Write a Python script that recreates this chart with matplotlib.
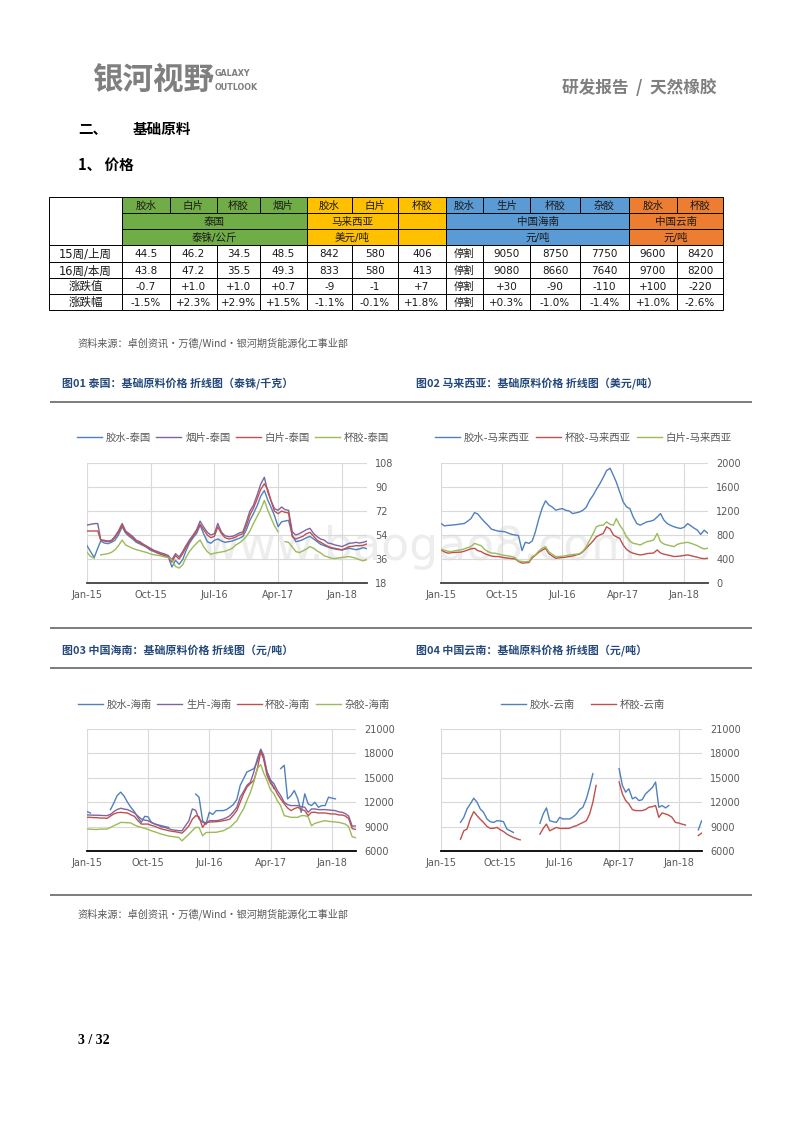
import numpy as np
import matplotlib
matplotlib.use('Agg')
import matplotlib.pyplot as plt
import matplotlib.dates as mdates
from matplotlib.patches import Rectangle
import datetime as dt

nan = np.nan
CJK = ['Noto Sans CJK SC', 'DejaVu Sans']
LAT = ['DejaVu Sans', 'Noto Sans CJK SC']
plt.rcParams['font.family'] = LAT

# ---------------- table data ----------------
tbl_items = ['胶水', '白片', '杯胶', '烟片', '胶水', '白片', '杯胶',
             '胶水', '生片', '杯胶', '杂胶', '胶水', '杯胶']
tbl_groups = [(0, 4, '泰国', '泰铢/公斤', '#70AD47'),
              (4, 6, '马来西亚', '美元/吨', '#FFC000'),
              (6, 7, '', '', '#FFC000'),
              (7, 11, '中国海南', '元/吨', '#5B9BD5'),
              (11, 13, '中国云南', '元/吨', '#ED7D31')]
row_labels = ['15周/上周', '16周/本周', '涨跌值', '涨跌幅']
wk15 = ['44.5', '46.2', '34.5', '48.5', '842', '580', '406', '停割', '9050', '8750', '7750', '9600', '8420']
wk16 = ['43.8', '47.2', '35.5', '49.3', '833', '580', '413', '停割', '9080', '8660', '7640', '9700', '8200']
chg = ['-0.7', '+1.0', '+1.0', '+0.7', '-9', '-1', '+7', '停割', '+30', '-90', '-110', '+100', '-220']
chg_pct = ['-1.5%', '+2.3%', '+2.9%', '+1.5%', '-1.1%', '-0.1%', '+1.8%', '停割', '+0.3%', '-1.0%', '-1.4%', '+1.0%', '-2.6%']

# ---------------- series data (half-monthly, Jan 2015 - Apr 2018) ----------------
dates = []
for yy in (2015, 2016, 2017, 2018):
    for mm in range(1, 13):
        for dd in (1, 16):
            dates.append(dt.date(yy, mm, dd))
dates = dates[:80]

thai_latex = [46, 41.6, 37.1, 44, 49.5, 48, 47.5, 48.5, 50, 54,
              60.2, 55.5, 53, 51, 48.5, 47.3, 46, 44.5, 42.5, 41.6,
              40.5, 39.5, 38.5, 37.5, 30, 35, 32, 35.5, 42, 47.8,
              52, 55.2, 61.4, 55, 49, 47.8, 50, 51, 49.5, 48.5,
              49, 49.5, 50.5, 51.5, 53, 58, 65, 70, 76, 83,
              87.4, 80, 75, 68.8, 60.2, 63.9, 64.5, 65, 54, 49,
              49.5, 50.5, 52, 53, 51, 49, 47, 46, 45, 44,
              43.5, 43, 42.8, 43.5, 44, 43.5, 43, 43.5, 44.5, 43.8]
thai_rss = [61.4, 62, 62.5, 62.6, 50.5, 50, 49.5, 50, 53, 57,
            62.6, 57, 55, 53, 50, 49, 47, 45.5, 44, 42.5,
            41.5, 40.5, 39.8, 38.6, 35.4, 40, 37.5, 41.6, 46, 50.2,
            54, 58, 64.4, 60, 56, 54, 55, 62.6, 56, 53.5,
            52.7, 53, 54, 55.5, 56.4, 64, 72, 76.3, 84, 92,
            97.3, 86, 80, 73.8, 72.5, 75, 73, 72.5, 56.4, 54,
            55, 56.4, 58, 59, 55, 52.7, 51, 50.2, 48, 47.5,
            46.5, 46, 45.3, 46.5, 47.8, 48, 48.5, 48, 48.5, 49.3]
thai_white = [57, 57, 57, 57, 50.2, 49.5, 49, 49.5, 52, 56,
              61.4, 56, 54, 52, 49.5, 48, 46.5, 45, 43.5, 42,
              40.5, 39.5, 38.8, 37.5, 33.6, 38.5, 36, 40, 44.5, 49,
              53, 57, 62, 58, 54, 52, 53, 60, 55, 52,
              51, 51.5, 52.5, 54, 55, 61, 69, 74, 81, 88,
              92.4, 88, 80, 72, 70, 72, 71, 70.5, 52.7, 51,
              52, 53, 55, 56, 53, 50, 48.5, 47, 45.5, 44.5,
              44, 43.5, 42.8, 44, 45.3, 45.5, 46, 46, 46.2, 47.2]
thai_cup = [41.1, 37.9, 36.6, nan, 39.1, 39.5, 40, 41, 42.8, 46,
            50.2, 46.5, 45.3, 44, 43, 42.3, 41.5, 40.8, 39.8, 39.1,
            38.8, 38.3, 37.5, 37.1, 35.4, 30.4, 29.2, 31.6, 37, 41.6,
            45, 47.8, 50.2, 45.3, 41.5, 39.5, 40.3, 40.8, 41.3, 41.8,
            42.8, 44, 46.5, 48, 50.2, 53, 57, 62.6, 68, 73,
            80, 72.5, 67, 61, 56.4, nan, 49, 48.5, 45, 41.6,
            40.8, 42, 43.5, 45.3, 44, 42, 40.5, 38.5, 37.5, 36.6,
            36.3, 36.8, 37.1, 37.5, 37.8, 37.2, 36.6, 35.5, 34.6, 35.5]

my_latex = [992, 953, 960, 964, 970, 975, 985, 992, 1030, 1074,
            1173, 1150, 1080, 1019, 960, 898, 880, 865, 860, 854,
            830, 810, 800, 790, 540, 680, 660, 700, 850, 1060,
            1250, 1370, 1300, 1267, 1212, 1230, 1240, 1212, 1200, 1157,
            1170, 1184, 1212, 1260, 1380, 1460, 1560, 1650, 1760, 1873,
            1912, 1791, 1680, 1520, 1350, 1270, 1240, 1100, 992, 964,
            990, 1019, 1030, 1047, 1100, 1157, 1050, 992, 960, 937,
            920, 909, 930, 990, 950, 910, 882, 810, 880, 833]
my_cup = [551, 520, 496, 505, 510, 512, 515, 530, 550, 570,
          578, 540, 523, 490, 468, 450, 441, 441, 430, 420,
          413, 405, 402, 360, 331, 335, 342, 420, 460, 510,
          550, 578, 490, 450, 413, 420, 424, 430, 441, 450,
          468, 480, 520, 580, 640, 700, 771, 800, 826, 937,
          900, 799, 770, 744, 633, 560, 520, 496, 480, 468,
          475, 490, 495, 500, 551, 500, 480, 468, 455, 441,
          445, 450, 460, 468, 455, 441, 430, 413, 406, 413]
my_white = [562, 545, 530, 523, 535, 545, 551, 570, 590, 606,
            661, 640, 622, 560, 523, 500, 496, 485, 468, 460,
            450, 441, 420, 370, 358, 355, 360, 440, 468, 530,
            580, 606, 520, 480, 441, 441, 445, 455, 468, 475,
            480, 490, 530, 600, 716, 820, 937, 960, 964, 1019,
            975, 964, 1074, 964, 882, 771, 700, 661, 650, 633,
            660, 689, 700, 716, 826, 689, 650, 633, 620, 606,
            644, 660, 670, 678, 661, 640, 622, 590, 567, 580]

hn_latex = [10840, 10675, nan, nan, nan, nan, nan, 11088, 11900, 12823,
            13236, 12740, 11997, 11377, 10840, 10138, 9519, 10262, 10200, 9519,
            9312, 9200, 9106, 9000, 8900, nan, nan, nan, nan, nan,
            nan, nan, 13000, 12616, 9725, 9312, 10758, 10500, 10965, 10965,
            10965, 11100, 11377, 11700, 12327, 14062, 14888, 15714, 15920, 16127,
            17000, 18398, 17366, 15714, 14681, 13648, nan, 16127, 16540, 12400,
            12800, 13442, 12410, 10758, 13030, 11790, 11584, 12000, 11377, 11584,
            11584, 12616, 12500, 12410, nan, nan, nan, nan, nan, nan]
hn_rss = [10427, 10427, 10400, 10400, 10380, 10360, 10345, 10500, 10840, 11100,
          11253, 11150, 11088, 10900, 10675, 10300, 9932, 9800, 9725, 9500,
          9312, 9150, 8950, 8900, 8750, 8610, 8550, 8500, 8486, 9100,
          9725, 11170, 11000, 9932, 9550, 9312, 9725, 9725, 9725, 9800,
          9932, 10100, 10345, 10800, 11377, 12616, 13300, 14062, 14474, 15714,
          17366, 18522, 17779, 15714, 14700, 14268, 13442, 12823, 11997, 11700,
          11584, 11584, 11584, 11450, 11377, 10758, 11170, 11170, 11088, 11088,
          11088, 11050, 11000, 10965, 10800, 10758, 10600, 10300, 9050, 9080]
hn_cup = [10138, 10138, 10100, 10100, 10050, 10050, 10010, 10300, 10551, 10700,
          10758, 10700, 10675, 10450, 10262, 9750, 9312, 9312, 9312, 9150,
          9023, 8850, 8700, 8610, 8500, 8420, 8362, 8280, 8197, 8600,
          9106, 9900, 10345, 10200, 8900, 9519, 9550, 9580, 9601, 9650,
          9725, 9800, 9932, 10400, 10965, 12000, 13030, 13855, 14300, 14681,
          16127, 18192, 17366, 15301, 14300, 13855, 13030, 12410, 11790, 11300,
          10965, 11200, 11377, 11100, 10965, 10345, 10758, 10758, 10675, 10675,
          10675, 10600, 10551, 10551, 10427, 10427, 10300, 10000, 8750, 8660]
hn_mixed = [8693, 8693, 8650, 8650, 8693, 8693, 8700, 8900, 9106, 9300,
            9519, 9500, 9480, 9450, 9200, 9023, 8900, 8776, 8650, 8486,
            8350, 8200, 8073, 7950, 7850, 7784, 7720, 7660, 7247, 7660,
            8073, 8500, 8900, 8900, 7867, 8280, 8280, 8300, 8300, 8400,
            8486, 8700, 8900, 9300, 9725, 10500, 11170, 12200, 13236, 14474,
            16127, 16622, 15600, 14681, 13500, 13030, 12203, 11584, 10345, 10250,
            10138, 10138, 10138, 10345, 10345, 10200, 9106, 9400, 9519, 9650,
            9725, 9650, 9601, 9560, 9519, 9400, 9312, 9000, 7750, 7640]

yn_latex = [nan, nan, nan, nan, nan, nan, 9519, 10138, 11170, 11790,
            12492, 11997, 11170, 10758, 9932, 9600, 9519, 9725, 9700, 9600,
            8693, 8486, 8280, nan, nan, nan, nan, nan, nan, nan,
            9395, 10551, 11300, 9725, 9600, 9519, 10138, 9932, 9950, 9932,
            10200, 10551, 11088, 11377, 12410, 13855, 15508, nan, nan, nan,
            nan, nan, nan, nan, 16127, 14062, 13236, 13648, 12410, 12616,
            12203, 12300, 13030, 13400, 13800, 14474, 11377, 11584, 11300, 11584,
            nan, nan, nan, nan, nan, nan, nan, nan, 8600, 9700]
yn_cup = [nan, nan, nan, nan, nan, nan, 7454, 8486, 8693, 9932,
          10840, 10345, 9900, 9519, 9023, 8776, 8800, 8900, 8610, 8400,
          8073, 7850, 7660, 7500, 7371, nan, nan, nan, nan, nan,
          8073, 8776, 9312, 8486, 8700, 8900, 8776, 8776, 8776, 8800,
          9000, 9106, 9312, 9500, 9725, 10551, 11997, 14062, nan, nan,
          nan, nan, nan, nan, 14500, 13030, 12203, 11790, 11088, 10965,
          10965, 10965, 11100, 11377, 11450, 11584, 10138, 10675, 10551, 10400,
          10138, 9519, 9436, 9300, 9190, nan, nan, nan, 7900, 8200]

xtick_dates = [dt.date(2015, 1, 1), dt.date(2015, 10, 1), dt.date(2016, 7, 1),
               dt.date(2017, 4, 1), dt.date(2018, 1, 1)]
xtick_labels = ['Jan-15', 'Oct-15', 'Jul-16', 'Apr-17', 'Jan-18']

C_BLUE, C_PURPLE, C_RED, C_GREEN = '#4F81BD', '#8064A2', '#C0504D', '#9BBB59'

# ---------------- figure ----------------
W, H = 800, 1132
fig = plt.figure(figsize=(W / 100, H / 100), dpi=100)
bg = fig.add_axes([0, 0, 1, 1])
bg.set_xlim(0, W)
bg.set_ylim(H, 0)
bg.axis('off')

GRAY = '#7F7F7F'
bg.text(92, 80, '银河视野', fontsize=22, fontweight='bold', color=GRAY, family=CJK,
        ha='left', va='center')
bg.text(215, 74, 'GALAXY', fontsize=6.4, fontweight='bold', color=GRAY, ha='left',
        va='center', family=['DejaVu Sans'], fontstretch='condensed')
bg.text(215, 87, 'OUTLOOK', fontsize=6.4, fontweight='bold', color=GRAY, ha='left',
        va='center', family=['DejaVu Sans'], fontstretch='condensed')
bg.text(717, 88, '研发报告  /  天然橡胶', fontsize=12, fontweight='bold', color=GRAY,
        family=CJK, ha='right', va='center')

bg.text(78, 129, '二、', fontsize=10.5, fontweight='bold', color='black', family=CJK, va='center')
bg.text(133, 129, '基础原料', fontsize=10.5, fontweight='bold', color='black', family=CJK, va='center')
bg.text(78, 165, '1、 价格', fontsize=10.5, fontweight='bold', color='black', family=CJK, va='center')

# ---------------- table ----------------
xb = [49, 122, 170, 217, 260, 307, 352, 398, 446, 483, 530, 580, 629, 677, 723]
yb = [197, 213, 229, 245, 262, 278, 294, 310]
TXT = '#1A1A1A'


def cell(x0, x1, y0, y1, txt, fc='white', fs=7.5):
    bg.add_patch(Rectangle((x0, y0), x1 - x0, y1 - y0, facecolor=fc,
                           edgecolor='black', lw=0.7))
    if txt:
        bg.text((x0 + x1) / 2, (y0 + y1) / 2 + 0.5, txt, ha='center', va='center',
                fontsize=fs, family=LAT, color=TXT)


cell(xb[0], xb[1], yb[0], yb[3], '')
for (c0, c1, gname, unit, col) in tbl_groups:
    for c in range(c0, c1):
        cell(xb[c + 1], xb[c + 2], yb[0], yb[1], tbl_items[c], fc=col, fs=7.6)
    cell(xb[c0 + 1], xb[c1 + 1], yb[1], yb[2], gname, fc=col, fs=7.6)
    cell(xb[c0 + 1], xb[c1 + 1], yb[2], yb[3], unit, fc=col, fs=7.6)

for r, (lab, vals) in enumerate(zip(row_labels, [wk15, wk16, chg, chg_pct])):
    y0, y1 = yb[3 + r], yb[4 + r]
    cell(xb[0], xb[1], y0, y1, lab, fs=8.3)
    for c, v in enumerate(vals):
        cell(xb[c + 1], xb[c + 2], y0, y1, v, fs=7.5)

SRC = '资料来源：卓创资讯•万德/Wind•银河期货能源化工事业部'
bg.text(77, 343, SRC, fontsize=7.3, color='#595959', family=CJK, va='center')
bg.text(77, 914, SRC, fontsize=7.3, color='#595959', family=CJK, va='center')

for yl in (402, 628, 668, 895):
    bg.plot([50, 752], [yl, yl], color='#595959', lw=1.1, solid_capstyle='butt')

TCOL = '#25497A'
bg.text(62, 383, '图01 泰国：基础原料价格 折线图（泰铢/千克）', color=TCOL, fontsize=7.9,
        fontweight='bold', family=CJK, va='center')
bg.text(416, 383, '图02 马来西亚：基础原料价格 折线图（美元/吨）', color=TCOL, fontsize=7.9,
        fontweight='bold', family=CJK, va='center')
bg.text(62, 650, '图03 中国海南：基础原料价格 折线图（元/吨）', color=TCOL, fontsize=7.9,
        fontweight='bold', family=CJK, va='center')
bg.text(416, 650, '图04 中国云南：基础原料价格 折线图（元/吨）', color=TCOL, fontsize=7.9,
        fontweight='bold', family=CJK, va='center')

bg.text(201, 548, 'www.baogao8.com', fontsize=33, color='#EDEDED', ha='left',
        va='center', family=['DejaVu Sans'], zorder=0)

bg.text(78, 1040, '3 / 32', fontsize=10, fontweight='bold', color='black',
        family=['Liberation Serif', 'DejaVu Serif'], va='center')

# ---------------- charts ----------------
xmin = mdates.date2num(dt.date(2015, 1, 1))
xmax = mdates.date2num(dt.date(2018, 4, 18))
xd = mdates.date2num(dates)


def make_ax(l, t, r, b, ylim, yticks, bottom_col):
    ax = fig.add_axes([l / W, 1 - b / H, (r - l) / W, (b - t) / H])
    ax.set_facecolor('none')
    ax.set_xlim(xmin, xmax)
    ax.set_ylim(*ylim)
    ax.set_yticks(yticks)
    ax.yaxis.tick_right()
    ax.set_xticks(mdates.date2num(xtick_dates))
    ax.set_xticklabels(xtick_labels)
    ax.grid(True, color='#D9D9D9', lw=0.8)
    ax.set_axisbelow(True)
    ax.tick_params(axis='both', length=0, labelsize=7, colors='#595959')
    ax.tick_params(axis='y', pad=6)
    ax.tick_params(axis='x', pad=5)
    for s in ('top', 'right', 'left'):
        ax.spines[s].set_visible(False)
    ax.spines['bottom'].set_color(bottom_col)
    ax.spines['bottom'].set_linewidth(1.3)
    return ax


def add_legend(ax, cx, cy, colsp):
    ax.legend(loc='center', bbox_to_anchor=(cx / W, 1 - cy / H), bbox_transform=fig.transFigure,
              ncol=4, frameon=False, prop={'family': LAT, 'size': 7.5},
              labelcolor='#595959', handlelength=2.4, handletextpad=0.35,
              columnspacing=colsp, borderaxespad=0)


LW = 1.0
ax1 = make_ax(87, 463, 367, 583, (18, 108), [18, 36, 54, 72, 90, 108], '#404040')
ax1.plot(xd, thai_latex, color=C_BLUE, lw=LW, label='胶水-泰国')
ax1.plot(xd, thai_rss, color=C_PURPLE, lw=LW, label='烟片-泰国')
ax1.plot(xd, thai_white, color=C_RED, lw=LW, label='白片-泰国')
ax1.plot(xd, thai_cup, color=C_GREEN, lw=LW, label='杯胶-泰国')
add_legend(ax1, 233, 438, 0.5)

ax2 = make_ax(441, 463, 708, 583, (0, 2000), [0, 400, 800, 1200, 1600, 2000], '#404040')
ax2.plot(xd, my_latex, color=C_BLUE, lw=LW, label='胶水-马来西亚')
ax2.plot(xd, my_cup, color=C_RED, lw=LW, label='杯胶-马来西亚')
ax2.plot(xd, my_white, color=C_GREEN, lw=LW, label='白片-马来西亚')
add_legend(ax2, 583, 438, 0.6)

ax3 = make_ax(87, 729, 356, 851, (6000, 21000), [6000, 9000, 12000, 15000, 18000, 21000], 'black')
ax3.plot(xd, hn_latex, color=C_BLUE, lw=LW, label='胶水-海南')
ax3.plot(xd, hn_rss, color=C_PURPLE, lw=LW, label='生片-海南')
ax3.plot(xd, hn_cup, color=C_RED, lw=LW, label='杯胶-海南')
ax3.plot(xd, hn_mixed, color=C_GREEN, lw=LW, label='杂胶-海南')
add_legend(ax3, 234, 705, 0.5)

ax4 = make_ax(441, 729, 702, 851, (6000, 21000), [6000, 9000, 12000, 15000, 18000, 21000], 'black')
ax4.plot(xd, yn_latex, color=C_BLUE, lw=LW, label='胶水-云南')
ax4.plot(xd, yn_cup, color=C_RED, lw=LW, label='杯胶-云南')
add_legend(ax4, 583, 705, 1.5)

fig.savefig('out.png', dpi=100)
